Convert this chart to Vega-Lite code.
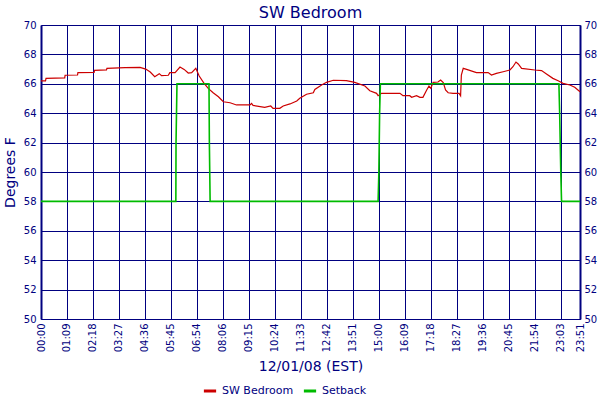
{
  "$schema": "https://vega.github.io/schema/vega-lite/v6.json",
  "width": 539,
  "height": 294,
  "autosize": {"type": "none"},
  "padding": {"left": 41, "top": 25, "right": 20, "bottom": 81},
  "background": "white",
  "title": {"text": "SW Bedroom", "fontSize": 16, "font": "DejaVu Sans", "fontWeight": "normal", "color": "#000080", "offset": -1, "anchor": "middle"},
  "config": {
    "view": {"stroke": null},
    "axis": {"labelFont": "DejaVu Sans", "titleFont": "DejaVu Sans", "labelColor": "#000080", "titleColor": "#000080", "titleFontWeight": "normal", "gridColor": "#000080", "gridOpacity": 1, "gridWidth": 1, "domainColor": "#000080", "ticks": false, "labelFontSize": 10},
    "legend": {"labelFont": "DejaVu Sans", "labelColor": "#000080", "labelFontSize": 11}
  },
  "data": {"values": [
    {"t": 0, "v": 66.2, "series": "SW Bedroom"},
    {"t": 12, "v": 66.2, "series": "SW Bedroom"},
    {"t": 13.3, "v": 66.37, "series": "SW Bedroom"},
    {"t": 63, "v": 66.4, "series": "SW Bedroom"},
    {"t": 64, "v": 66.58, "series": "SW Bedroom"},
    {"t": 97, "v": 66.6, "series": "SW Bedroom"},
    {"t": 98, "v": 66.76, "series": "SW Bedroom"},
    {"t": 141, "v": 66.78, "series": "SW Bedroom"},
    {"t": 142, "v": 66.92, "series": "SW Bedroom"},
    {"t": 174, "v": 66.95, "series": "SW Bedroom"},
    {"t": 175, "v": 67.05, "series": "SW Bedroom"},
    {"t": 223, "v": 67.1, "series": "SW Bedroom"},
    {"t": 263, "v": 67.12, "series": "SW Bedroom"},
    {"t": 278, "v": 67.0, "series": "SW Bedroom"},
    {"t": 290, "v": 66.8, "series": "SW Bedroom"},
    {"t": 302, "v": 66.48, "series": "SW Bedroom"},
    {"t": 314, "v": 66.69, "series": "SW Bedroom"},
    {"t": 320, "v": 66.55, "series": "SW Bedroom"},
    {"t": 338, "v": 66.58, "series": "SW Bedroom"},
    {"t": 342, "v": 66.76, "series": "SW Bedroom"},
    {"t": 356, "v": 66.76, "series": "SW Bedroom"},
    {"t": 369, "v": 67.14, "series": "SW Bedroom"},
    {"t": 380, "v": 66.98, "series": "SW Bedroom"},
    {"t": 391, "v": 66.73, "series": "SW Bedroom"},
    {"t": 400, "v": 66.76, "series": "SW Bedroom"},
    {"t": 411, "v": 67.05, "series": "SW Bedroom"},
    {"t": 420, "v": 66.53, "series": "SW Bedroom"},
    {"t": 433, "v": 66.03, "series": "SW Bedroom"},
    {"t": 444, "v": 65.69, "series": "SW Bedroom"},
    {"t": 457, "v": 65.39, "series": "SW Bedroom"},
    {"t": 471, "v": 65.12, "series": "SW Bedroom"},
    {"t": 484, "v": 64.78, "series": "SW Bedroom"},
    {"t": 502, "v": 64.71, "series": "SW Bedroom"},
    {"t": 519, "v": 64.56, "series": "SW Bedroom"},
    {"t": 555, "v": 64.56, "series": "SW Bedroom"},
    {"t": 559, "v": 64.67, "series": "SW Bedroom"},
    {"t": 563, "v": 64.53, "series": "SW Bedroom"},
    {"t": 594, "v": 64.4, "series": "SW Bedroom"},
    {"t": 610, "v": 64.49, "series": "SW Bedroom"},
    {"t": 616, "v": 64.33, "series": "SW Bedroom"},
    {"t": 634, "v": 64.33, "series": "SW Bedroom"},
    {"t": 643, "v": 64.49, "series": "SW Bedroom"},
    {"t": 661, "v": 64.63, "series": "SW Bedroom"},
    {"t": 679, "v": 64.83, "series": "SW Bedroom"},
    {"t": 687, "v": 65.01, "series": "SW Bedroom"},
    {"t": 705, "v": 65.29, "series": "SW Bedroom"},
    {"t": 723, "v": 65.39, "series": "SW Bedroom"},
    {"t": 727, "v": 65.62, "series": "SW Bedroom"},
    {"t": 745, "v": 65.92, "series": "SW Bedroom"},
    {"t": 758, "v": 66.1, "series": "SW Bedroom"},
    {"t": 776, "v": 66.24, "series": "SW Bedroom"},
    {"t": 811, "v": 66.22, "series": "SW Bedroom"},
    {"t": 833, "v": 66.1, "series": "SW Bedroom"},
    {"t": 860, "v": 65.85, "series": "SW Bedroom"},
    {"t": 873, "v": 65.53, "series": "SW Bedroom"},
    {"t": 891, "v": 65.35, "series": "SW Bedroom"},
    {"t": 895, "v": 65.19, "series": "SW Bedroom"},
    {"t": 904, "v": 65.35, "series": "SW Bedroom"},
    {"t": 953, "v": 65.35, "series": "SW Bedroom"},
    {"t": 961, "v": 65.19, "series": "SW Bedroom"},
    {"t": 979, "v": 65.19, "series": "SW Bedroom"},
    {"t": 984, "v": 65.08, "series": "SW Bedroom"},
    {"t": 997, "v": 65.19, "series": "SW Bedroom"},
    {"t": 1006, "v": 65.08, "series": "SW Bedroom"},
    {"t": 1014, "v": 65.08, "series": "SW Bedroom"},
    {"t": 1024, "v": 65.58, "series": "SW Bedroom"},
    {"t": 1030, "v": 65.85, "series": "SW Bedroom"},
    {"t": 1035, "v": 65.69, "series": "SW Bedroom"},
    {"t": 1041, "v": 66.1, "series": "SW Bedroom"},
    {"t": 1054, "v": 66.12, "series": "SW Bedroom"},
    {"t": 1061, "v": 66.26, "series": "SW Bedroom"},
    {"t": 1068, "v": 66.08, "series": "SW Bedroom"},
    {"t": 1074, "v": 65.58, "series": "SW Bedroom"},
    {"t": 1081, "v": 65.39, "series": "SW Bedroom"},
    {"t": 1094, "v": 65.35, "series": "SW Bedroom"},
    {"t": 1110, "v": 65.35, "series": "SW Bedroom"},
    {"t": 1114, "v": 65.19, "series": "SW Bedroom"},
    {"t": 1116, "v": 66.6, "series": "SW Bedroom"},
    {"t": 1121, "v": 67.05, "series": "SW Bedroom"},
    {"t": 1130, "v": 66.98, "series": "SW Bedroom"},
    {"t": 1156, "v": 66.76, "series": "SW Bedroom"},
    {"t": 1187, "v": 66.76, "series": "SW Bedroom"},
    {"t": 1196, "v": 66.6, "series": "SW Bedroom"},
    {"t": 1209, "v": 66.71, "series": "SW Bedroom"},
    {"t": 1227, "v": 66.82, "series": "SW Bedroom"},
    {"t": 1245, "v": 66.94, "series": "SW Bedroom"},
    {"t": 1253, "v": 67.16, "series": "SW Bedroom"},
    {"t": 1261, "v": 67.48, "series": "SW Bedroom"},
    {"t": 1267, "v": 67.35, "series": "SW Bedroom"},
    {"t": 1276, "v": 67.05, "series": "SW Bedroom"},
    {"t": 1311, "v": 66.94, "series": "SW Bedroom"},
    {"t": 1329, "v": 66.9, "series": "SW Bedroom"},
    {"t": 1342, "v": 66.67, "series": "SW Bedroom"},
    {"t": 1359, "v": 66.37, "series": "SW Bedroom"},
    {"t": 1373, "v": 66.21, "series": "SW Bedroom"},
    {"t": 1386, "v": 66.03, "series": "SW Bedroom"},
    {"t": 1404, "v": 65.92, "series": "SW Bedroom"},
    {"t": 1417, "v": 65.76, "series": "SW Bedroom"},
    {"t": 1431, "v": 65.46, "series": "SW Bedroom"},
    {"t": 0, "v": 58, "series": "Setback"},
    {"t": 358, "v": 58, "series": "Setback"},
    {"t": 358.5, "v": 62, "series": "Setback"},
    {"t": 361, "v": 66, "series": "Setback"},
    {"t": 446, "v": 66, "series": "Setback"},
    {"t": 447, "v": 62, "series": "Setback"},
    {"t": 449, "v": 58, "series": "Setback"},
    {"t": 895, "v": 58, "series": "Setback"},
    {"t": 897, "v": 60, "series": "Setback"},
    {"t": 899, "v": 64, "series": "Setback"},
    {"t": 901, "v": 66, "series": "Setback"},
    {"t": 1375, "v": 66, "series": "Setback"},
    {"t": 1377, "v": 64, "series": "Setback"},
    {"t": 1380, "v": 60, "series": "Setback"},
    {"t": 1382, "v": 58, "series": "Setback"},
    {"t": 1431, "v": 58, "series": "Setback"}
  ]},
  "encoding": {
    "x": {
      "field": "t", "type": "quantitative",
      "scale": {"domain": [0, 1431], "nice": false, "zero": false},
      "axis": {
        "values": [0, 69, 138, 207, 276, 345, 414, 483, 552, 621, 690, 759, 828, 897, 966, 1035, 1104, 1173, 1242, 1311, 1380, 1431],
        "labelExpr": "datum.value == 1431 ? '23:51' : ['00:00','01:09','02:18','03:27','04:36','05:45','06:54','08:06','09:15','10:24','11:33','12:42','13:51','15:00','16:09','17:18','18:27','19:36','20:45','21:54','23:03'][round(datum.value / 69)]",
        "labelAngle": 270,
        "labelPadding": 4,
        "grid": true,
        "domainWidth": 1,
        "title": "12/01/08 (EST)",
        "titleFontSize": 14,
        "titlePadding": 8,
        "labelOverlap": false,
        "labelFlush": false
      }
    },
    "color": {
      "field": "series", "type": "nominal",
      "scale": {"domain": ["SW Bedroom", "Setback"], "range": ["#CC0000", "#00BB00"]},
      "legend": {"title": null, "orient": "none", "legendX": 161, "legendY": 358, "direction": "horizontal", "symbolType": "stroke", "symbolStrokeWidth": 3, "symbolSize": 150, "labelOffset": 4, "columnPadding": 3}
    }
  },
  "layer": [
    {
      "transform": [{"filter": "datum.series == 'SW Bedroom'"}],
      "mark": {"type": "line", "strokeWidth": 1.2, "interpolate": "linear"},
      "encoding": {
        "y": {
          "field": "v", "type": "quantitative",
          "scale": {"domain": [50, 70], "nice": false, "zero": false},
          "axis": {"orient": "left", "values": [50, 52, 54, 56, 58, 60, 62, 64, 66, 68, 70], "grid": true, "domainWidth": 2, "labelPadding": 5, "title": "Degrees F", "titleFontSize": 14, "titlePadding": 6}
        }
      }
    },
    {
      "transform": [{"filter": "datum.series == 'Setback'"}],
      "mark": {"type": "line", "strokeWidth": 1.6, "interpolate": "linear"},
      "encoding": {
        "y": {
          "field": "v", "type": "quantitative",
          "scale": {"domain": [50, 70], "nice": false, "zero": false},
          "axis": {"orient": "right", "values": [50, 52, 54, 56, 58, 60, 62, 64, 66, 68, 70], "grid": false, "domainWidth": 2, "labelPadding": 4, "title": null}
        }
      }
    }
  ],
  "resolve": {"axis": {"y": "independent"}}
}
